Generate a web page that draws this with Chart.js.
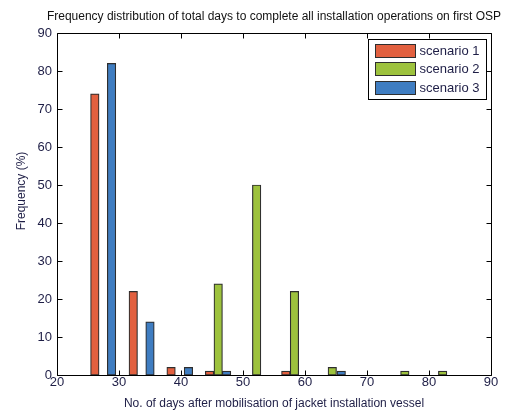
<!DOCTYPE html>
<html>
<head>
<meta charset="utf-8">
<script src="https://cdn.jsdelivr.net/npm/chart.js@4/dist/chart.umd.min.js"></script>
<style>
  html, body { margin: 0; padding: 0; background: #ffffff; }
  #wrap { width: 528px; height: 412px; }
</style>
</head>
<body>
<div id="wrap"><canvas id="c" width="528" height="412"></canvas></div>
<script>
// Histogram bins (days) and frequencies (%) for each scenario
const seriesNames = ['scenario 1', 'scenario 2', 'scenario 3'];
const seriesColors = ['#E2603F', '#9DC23D', '#3F7DC1'];

const s1Days = [26.1, 32.3, 38.4, 44.6, 56.9];
const s1Freq = [74, 22, 2, 1, 1];

const s2Days = [46.0, 52.2, 58.3, 64.4, 76.1, 82.2];
const s2Freq = [24, 50, 22, 2, 1, 1];

const s3Days = [28.8, 35.0, 41.2, 47.35, 65.85];
const s3Freq = [82, 14, 2, 1, 1];

const xTicks = [20, 30, 40, 50, 60, 70, 80, 90];
const yTicks = [0, 10, 20, 30, 40, 50, 60, 70, 80, 90];

const chartTitle = 'Frequency distribution of total days to complete all installation operations on first OSP';
const xTitle = 'No. of days after mobilisation of jacket installation vessel';
const yTitle = 'Frequency (%)';

const FONT = 'Liberation Sans, Arial, sans-serif';
const TEXT = '#1e1e46';

function points(xs, ys) {
  return xs.map((x, i) => ({ x: x, y: ys[i] }));
}

const allDays = [s1Days, s2Days, s3Days];
const allFreq = [s1Freq, s2Freq, s3Freq];

const datasets = seriesNames.map((name, i) => ({
  label: name,
  data: points(allDays[i], allFreq[i]),
  backgroundColor: seriesColors[i],
  borderColor: '#2e2e2e',
  borderWidth: 1.2,
  borderSkipped: false,
  barThickness: 8.5,
  grouped: false
}));

// Boxed axes with inward ticks on all four sides, plus title, y label and legend
const frame = {
  id: 'frame',
  afterDraw(chart) {
    const ctx = chart.ctx;
    const a = chart.chartArea;
    const xs = chart.scales.x, ys = chart.scales.y;
    const L = Math.round(a.left) + 0.5, R = Math.round(a.right) + 0.5;
    const T = Math.round(a.top) + 0.5, B = Math.round(a.bottom) + 0.5;
    const tl = 5;
    ctx.save();
    ctx.strokeStyle = '#000000';
    ctx.lineWidth = 1;
    ctx.beginPath();
    ctx.rect(L, T, R - L, B - T);
    xTicks.forEach(v => {
      const px = Math.round(xs.getPixelForValue(v)) + 0.5;
      ctx.moveTo(px, B); ctx.lineTo(px, B - tl);
      ctx.moveTo(px, T); ctx.lineTo(px, T + tl);
    });
    yTicks.forEach(v => {
      const py = Math.round(ys.getPixelForValue(v)) + 0.5;
      ctx.moveTo(L, py); ctx.lineTo(L + tl, py);
      ctx.moveTo(R, py); ctx.lineTo(R - tl, py);
    });
    ctx.stroke();

    // title
    ctx.fillStyle = '#111111';
    ctx.font = '12px ' + FONT;
    ctx.textAlign = 'center';
    ctx.textBaseline = 'middle';
    ctx.fillText(chartTitle, (a.left + a.right) / 2, 17);

    // y axis label
    ctx.save();
    ctx.translate(22, 191);
    ctx.rotate(-Math.PI / 2);
    ctx.fillStyle = TEXT;
    ctx.fillText(yTitle, 0, 0);
    ctx.restore();

    // legend box in the upper right of the axes
    const lw = 118, lh = 60;
    const lx = Math.round(a.right - 5 - lw) + 0.5;
    const ly = Math.round(a.top + 6) + 0.5;
    ctx.fillStyle = '#ffffff';
    ctx.fillRect(lx, ly, lw, lh);
    ctx.strokeStyle = '#000000';
    ctx.strokeRect(lx, ly, lw, lh);
    ctx.font = '13px ' + FONT;
    ctx.textAlign = 'left';
    ctx.textBaseline = 'middle';
    seriesNames.forEach((name, i) => {
      const cy = ly + 11 + i * 18.3;
      ctx.fillStyle = seriesColors[i];
      ctx.fillRect(lx + 7, Math.round(cy - 6.5) + 0.5, 40, 13);
      ctx.strokeStyle = '#2e2e2e';
      ctx.strokeRect(lx + 7, Math.round(cy - 6.5) + 0.5, 40, 13);
      ctx.fillStyle = TEXT;
      ctx.fillText(name, lx + 51, cy + 1);
    });
    ctx.restore();
  }
};

new Chart(document.getElementById('c'), {
  type: 'bar',
  data: { datasets: datasets },
  options: {
    responsive: false,
    animation: false,
    layout: { padding: { left: 0, right: 37, top: 33, bottom: 0 } },
    plugins: {
      legend: { display: false },
      title: { display: false },
      tooltip: { enabled: false }
    },
    scales: {
      x: {
        type: 'linear',
        offset: false,
        min: 20,
        max: 90,
        grid: { display: false, drawTicks: false },
        border: { display: false },
        afterBuildTicks: s => { s.ticks = xTicks.map(v => ({ value: v })); },
        afterFit: s => { s.height = 37; },
        ticks: { color: TEXT, font: { family: FONT, size: 13 }, padding: 0, maxRotation: 0 },
        title: { display: true, text: xTitle, color: TEXT, font: { family: FONT, size: 12 }, padding: { top: 0, bottom: 1 } }
      },
      y: {
        min: 0,
        max: 90,
        grid: { display: false, drawTicks: false },
        border: { display: false },
        afterBuildTicks: s => { s.ticks = yTicks.map(v => ({ value: v })); },
        afterFit: s => { s.width = 57; },
        ticks: { color: TEXT, font: { family: FONT, size: 13 }, padding: 5 },
        title: { display: false }
      }
    }
  },
  plugins: [frame]
});
</script>
</body>
</html>
